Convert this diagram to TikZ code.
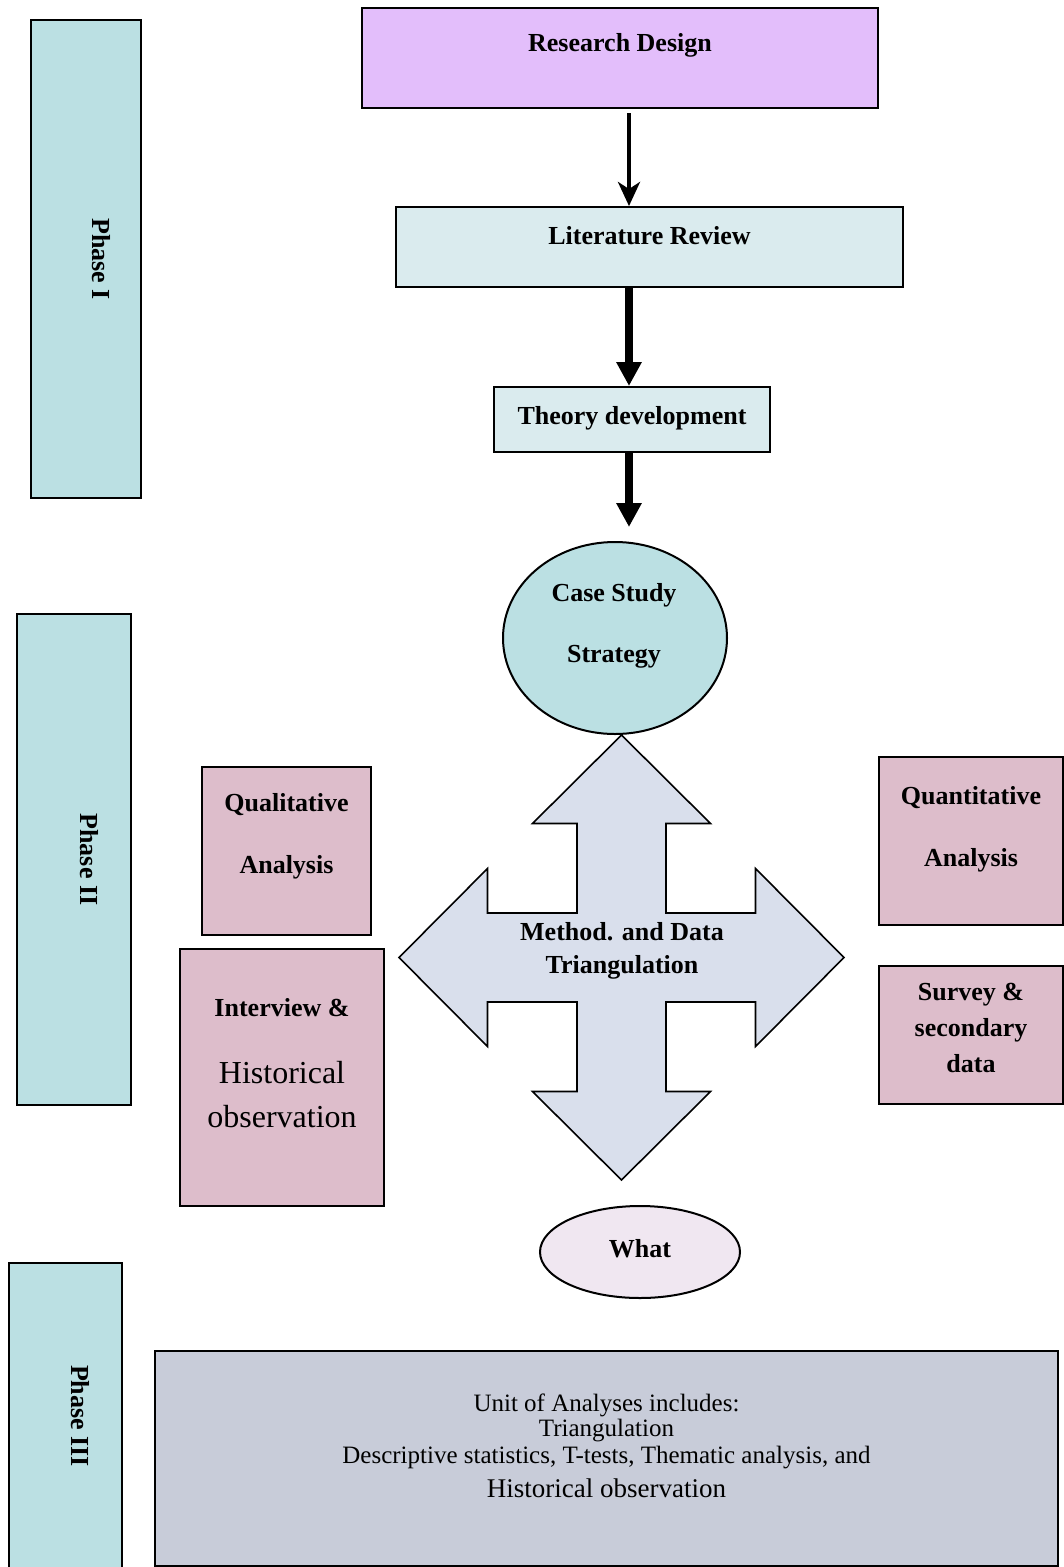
\documentclass[tikz,border=0pt]{standalone}
\usepackage{fontspec}
\setmainfont{Liberation Serif}
\usetikzlibrary{shapes.geometric,arrows.meta,calc}

\definecolor{designfill}{RGB}{227,190,251}
\definecolor{stepfill}{RGB}{218,235,238}
\definecolor{phasefill}{RGB}{187,224,227}
\definecolor{methodfill}{RGB}{221,189,203}
\definecolor{crossfill}{RGB}{217,223,236}
\definecolor{whatfill}{RGB}{240,231,241}
\definecolor{unitfill}{RGB}{200,204,217}

\tikzset{
  box/.style={draw=black, line width=2pt, rectangle, inner sep=0pt},
  oval/.style={draw=black, line width=2pt, ellipse, inner sep=0pt},
  bt/.style={font=\fontsize{26}{31}\selectfont\bfseries, inner sep=0pt, align=center},
  rt/.style={font=\fontsize{25}{29}\selectfont, inner sep=0pt, align=center},
  bigrt/.style={font=\fontsize{32}{36}\selectfont, inner sep=0pt, align=center},
  thinarrow/.style={line width=4pt, -{Stealth[width=22pt,length=24pt,inset=7pt]}},
  thickarrow/.style={line width=8pt, -{Triangle[width=24pt,length=24pt]}},
}

\begin{document}
\begin{tikzpicture}[x=1pt, y=-1pt]
\path[use as bounding box, clip] (0,0) rectangle (1064,1567);

% phase bars
\node[box, fill=phasefill, minimum width=110pt, minimum height=478pt] (ph1) at (86,259) {};
\node[bt, rotate=-90] (ph1t) at (101,259) {Phase I};
\node[box, fill=phasefill, minimum width=114pt, minimum height=491pt] (ph2) at (74,859.5) {};
\node[bt, rotate=-90] (ph2t) at (89,859.5) {Phase II};
\node[box, fill=phasefill, minimum width=113pt, minimum height=320pt] (ph3) at (65.5,1423) {};
\node[bt, rotate=-90] (ph3t) at (80,1416) {Phase III};

% main column
\coordinate (axis) at (629,0);
\node[box, fill=designfill, minimum width=516pt, minimum height=100pt] (rd) at (620,58) {};
\node[bt] (rdt) at (620,45) {Research Design};

\node[box, fill=stepfill, minimum width=507pt, minimum height=80pt] (lr) at (649.5,247) {};
\node[bt] (lrt) at (649.5,236) {Literature Review};

\node[box, fill=stepfill, minimum width=276pt, minimum height=65pt] (td) at (632,419.5) {};
\node[bt] (tdt) at (632,418) {Theory development};

\node[oval, fill=phasefill, minimum width=224pt, minimum height=192pt] (cs) at (615,638) {};
\node[bt] (cst1) at (614,595) {Case Study};
\node[bt] (cst2) at (614,657) {Strategy};

\draw[thinarrow] ($(rd.south -| axis)+(0,4)$) -- (lr.north -| axis);
\draw[thickarrow] (lr.south -| axis) -- (td.north -| axis);
\draw[thickarrow] (td.south -| axis) -- ($(cs.north -| axis)+(0,-14)$);

% four-way triangulation arrow
\begin{scope}[shift={(621.5,957.5)}]
  \draw[line width=1.6pt, fill=crossfill, line join=miter]
    (0,-222.5) -- (89,-134) -- (44.5,-134) -- (44.5,-44.5) -- (134,-44.5) -- (134,-89)
    -- (222.5,0) -- (134,89) -- (134,44.5) -- (44.5,44.5) -- (44.5,134) -- (89,134)
    -- (0,222.5) -- (-89,134) -- (-44.5,134) -- (-44.5,44.5) -- (-134,44.5) -- (-134,89)
    -- (-222.5,0) -- (-134,-89) -- (-134,-44.5) -- (-44.5,-44.5) -- (-44.5,-134) -- (-89,-134)
    -- cycle;
  \coordinate (cross) at (0,0);
\end{scope}
\node[bt] (crt1) at (622,932) {Method. and Data};
\node[bt] (crt2) at (622,967) {Triangulation};

\node[oval, fill=whatfill, minimum width=200pt, minimum height=92pt] (wh) at (640,1252) {};
\node[bt] (wht) at (640,1249) {What};

% qualitative side
\node[box, fill=methodfill, minimum width=169pt, minimum height=168pt] (ql) at (286.5,851) {};
\node[bt] (qlt1) at (286.5,805) {Qualitative};
\node[bt] (qlt2) at (286.5,867) {Analysis};

\node[box, fill=methodfill, minimum width=204pt, minimum height=257pt] (iv) at (282,1077.5) {};
\node[bt] (ivt1) at (282,1008) {Interview \&};
\node[bigrt] (ivt2) at (282,1073) {Historical};
\node[bigrt] (ivt3) at (282,1117) {observation};

% quantitative side
\node[box, fill=methodfill, minimum width=184pt, minimum height=168pt] (qn) at (971,841) {};
\node[bt] (qnt1) at (971,798) {Quantitative};
\node[bt] (qnt2) at (971,860) {Analysis};

\node[box, fill=methodfill, minimum width=184pt, minimum height=138pt] (sv) at (971,1035) {};
\node[bt] (svt1) at (971,995) {Survey \&};
\node[bt] (svt2) at (971,1030) {secondary};
\node[bt] (svt3) at (971,1064) {data};

% unit of analyses
\node[box, fill=unitfill, minimum width=903pt, minimum height=215pt] (ua) at (606.5,1458.5) {};
\node[rt] (ua1) at (606.5,1405) {Unit of Analyses includes:};
\node[rt] (ua2) at (606.5,1431) {Triangulation};
\node[rt] (ua3) at (606.5,1458) {Descriptive statistics, T-tests, Thematic analysis, and};
\node[rt, font=\fontsize{27}{31}\selectfont] (ua4) at (606.5,1488) {Historical observation};
\end{tikzpicture}
\end{document}
